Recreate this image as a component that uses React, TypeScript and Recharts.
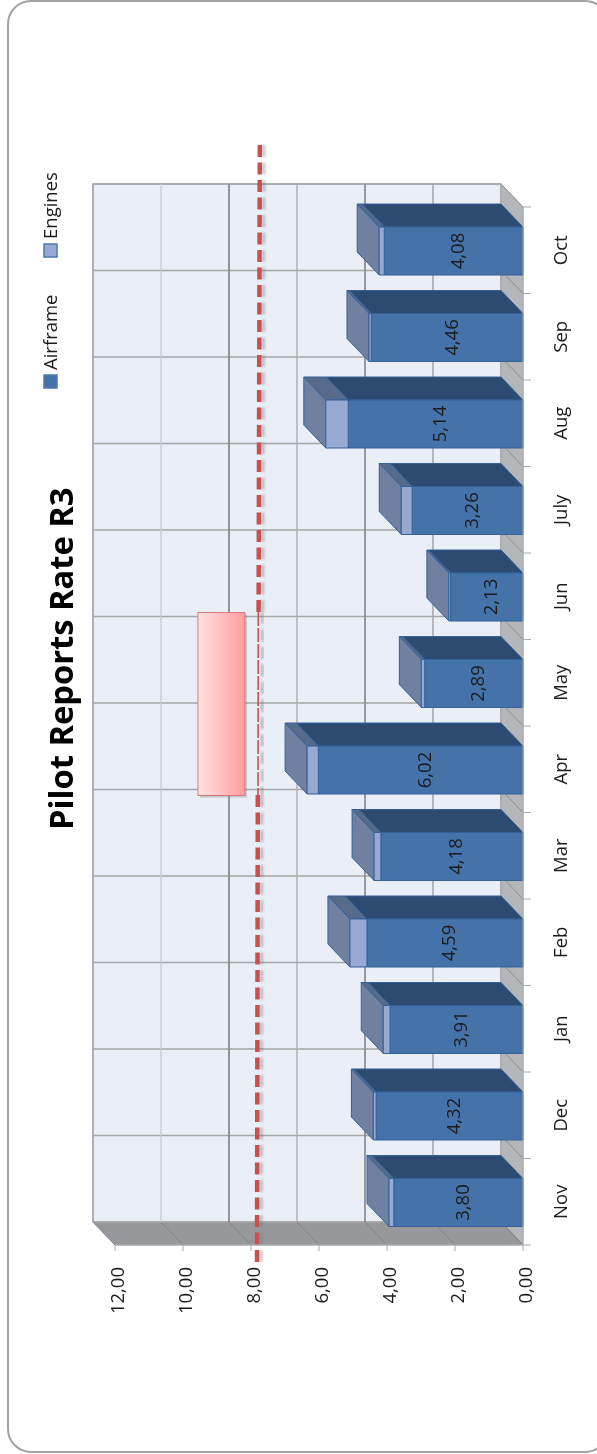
import React from "react";
import { BarChart, Bar, XAxis, YAxis, CartesianGrid, ReferenceArea, ReferenceLine, LabelList, Legend } from "recharts";

const months = ["Nov", "Dec", "Jan", "Feb", "Mar", "Apr", "May", "Jun", "July", "Aug", "Sep", "Oct"];
const airframe = [3.8, 4.32, 3.91, 4.59, 4.18, 6.02, 2.89, 2.13, 3.26, 5.14, 4.46, 4.08];
const engines = [0.14, 0.08, 0.2, 0.5, 0.2, 0.33, 0.1, 0.05, 0.32, 0.66, 0.07, 0.15];
const valueTicks = [0, 2, 4, 6, 8, 10, 12];
const target = 7.8;
const calloutFrom = 8.18;
const calloutTo = 9.56;
const title = "Pilot Reports Rate R3";

const data = months.map((m, i) => ({ month: m, Airframe: airframe[i], Engines: engines[i] }));

const DX = 22;
const DY = 23;
const FONT = "'Open Sans', sans-serif";
const FS = 18.5;
const TEXT = "#1c1c1c";
const gridColors: Record<number, string> = { 0: "#a9abb0", 2: "#a0a0a4", 4: "#8f8f8f", 6: "#adadad", 8: "#8a8a8a", 10: "#c8ccd4", 12: "#a9abb0" };

const comma = (v: number) => v.toFixed(2).replace(".", ",");
const pts = (...p: number[][]) => p.map((q) => q.join(",")).join(" ");

function box(props: any, front: string, top: string, cap: string, drawCap: boolean) {
  const w = Math.abs(props.width);
  const x = props.width < 0 ? props.x + props.width : props.x;
  const y = props.y + 1;
  const h = props.height;
  const stroke = "#35619a";
  return (
    <g strokeLinejoin="round">
      <polygon points={pts([x, y], [x + w, y], [x + w - DX, y - DY], [x - DX, y - DY])} fill={top} stroke={stroke} strokeWidth={1} />
      {drawCap && <polygon points={pts([x, y], [x, y + h], [x - DX, y + h - DY], [x - DX, y - DY])} fill={cap} stroke={stroke} strokeWidth={1} />}
      <rect x={x} y={y} width={w} height={h} fill={front} stroke={stroke} strokeWidth={1} />
    </g>
  );
}
const AirframeShape = (p: any) => box(p, "#4472a9", "#2d4a70", "#6f80a0", true);
const EnginesShape = (p: any) => box(p, "#95a9d3", "#566a8a", "#6f80a0", true);

const ValueLabel = (p: any) => {
  const w = Math.abs(p.width);
  const x = (p.width < 0 ? p.x + p.width : p.x) + w / 2 + 3;
  const y = p.y + p.height / 2 + 1;
  return (
    <text x={x} y={y} transform={`rotate(-90 ${x} ${y})`} textAnchor="middle" dominantBaseline="central" fontFamily={FONT} fontSize={FS} fill={TEXT}>
      {comma(Number(p.value))}
    </text>
  );
};

const ValueTick = (p: any) => {
  const x = p.x + 1;
  const y = p.y + 14;
  return (
    <text x={x} y={y} transform={`rotate(-90 ${x} ${y})`} textAnchor="end" dominantBaseline="central" fontFamily={FONT} fontSize={FS} fill={TEXT}>
      {comma(Number(p.payload.value))}
    </text>
  );
};

const MonthTick = (p: any) => {
  const x = p.x + 28;
  return (
    <text x={x} y={p.y} transform={`rotate(-90 ${x} ${p.y})`} textAnchor="middle" dominantBaseline="central" fontFamily={FONT} fontSize={FS} fill={TEXT}>
      {p.payload.value}
    </text>
  );
};

const Walls = (p: any) => {
  const { x, y, width: w, height: h } = p;
  return (
    <g>
      <rect x={x - DX} y={y - DY} width={w} height={h} fill="#e9eef7" stroke="#a9abb0" strokeWidth={1.5} />
      <polygon points={pts([x - DX, y + h - DY], [x + w - DX, y + h - DY], [x + w, y + h], [x, y + h])} fill="#96989c" stroke="#a9abb0" />
      <polygon points={pts([x + w - DX, y - DY], [x + w, y], [x + w, y + h], [x + w - DX, y + h - DY])} fill="#b4b6ba" stroke="#a9abb0" />
    </g>
  );
};

const verticalLine = (p: any) => {
  const v = valueTicks[p.index] ?? 0;
  return (
    <g key={`v${p.index}`}>
      <line x1={p.x1 - DX} x2={p.x2 - DX} y1={p.y1 - DY} y2={p.y2 - DY} stroke={gridColors[v]} strokeWidth={v === 8 || v === 4 ? 1.8 : 1.4} />
      <line x1={p.x2 - DX} x2={p.x2} y1={p.y2 - DY} y2={p.y2} stroke="#808286" strokeWidth={1} />
    </g>
  );
};

const horizontalLine = (p: any) => (
  <g key={`h${p.index}`}>
    <line x1={p.x1 - DX} x2={p.x2 - DX} y1={p.y1 - DY} y2={p.y2 - DY} stroke="#a6a6a6" strokeWidth={1.4} />
    <line x1={p.x2 - DX} x2={p.x2} y1={p.y2 - DY} y2={p.y2} stroke="#8c8e92" strokeWidth={1} />
    <line x1={p.x2} x2={p.x2 + 8} y1={p.y2} y2={p.y2} stroke="#a9abb0" strokeWidth={1} />
  </g>
);

const bandLines = ({ offset }: any) => months.map((_, i) => offset.top + (offset.height * i) / months.length).concat(offset.top + offset.height);

const TargetLine = (p: any) => {
  const x = Math.min(p.x1, p.x2);
  const dash = "12 5.5";
  const blur = "url(#lineBlur)";
  const seg = (y1: number, y2: number, xa: number, xb: number, sw: number, d: string) => (
    <g>
      <line x1={xa + 4} x2={xb + 4} y1={y1} y2={y2} stroke="#777" strokeOpacity={0.4} strokeWidth={3.5} strokeDasharray={dash} filter={blur} />
      <line x1={xa} x2={xb} y1={y1} y2={y2} stroke="#c9504f" strokeWidth={sw} strokeDasharray={d} />
    </g>
  );
  return (
    <g>
      <defs>
        <filter id="lineBlur" x="-400%" width="900%" filterUnits="objectBoundingBox" primitiveUnits="userSpaceOnUse">
          <feGaussianBlur stdDeviation="1" />
        </filter>
      </defs>
      {seg(145, 612, x + 2, x + 0.8, 4.5, dash)}
      {seg(612, 795, x + 0.5, x + 0.2, 1.6, "14 2")}
      {seg(795, 1266, x, x - 0.8, 4.5, dash)}
    </g>
  );
};

const Callout = (p: any) => {
  const y = p.y - 27;
  const h = 183;
  return (
    <g>
      <defs>
        <linearGradient id="calloutFill" x1="0" x2="1" y1="0" y2="0">
          <stop offset="0" stopColor="#ffe3e3" />
          <stop offset="1" stopColor="#ff9d9d" />
        </linearGradient>
      </defs>
      <rect x={p.x + 2} y={y + 2} width={p.width} height={h} fill="#8a8a8a" fillOpacity={0.4} />
      <rect x={p.x} y={y} width={p.width} height={h} fill="url(#calloutFill)" stroke="#d97a7a" strokeWidth={1} />
    </g>
  );
};

const renderLegend = (p: any) => {
  const positions = [375, 244];
  return (
    <svg width={1} height={1} style={{ overflow: "visible", position: "absolute", left: 0, top: 0 }}>
      {(p.payload ?? []).map((e: any, i: number) => (
        <g key={e.value}>
          <rect x={44} y={positions[i]} width={13} height={13} fill={e.color} stroke="#4f79ad" strokeWidth={1.5} />
          <text x={49} y={positions[i] - 5} transform={`rotate(-90 49 ${positions[i] - 5})`} dominantBaseline="central" fontFamily={FONT} fontSize={FS} fill={TEXT}>
            {e.value}
          </text>
        </g>
      ))}
    </svg>
  );
};

export default function App() {
  return (
    <div style={{ position: "absolute", left: 0, top: 0, width: 597, height: 1454, overflow: "hidden", background: "#fff", filter: "blur(0.4px)" }}>
      <svg width={597} height={1454} style={{ position: "absolute", left: 0, top: 0 }}>
        <rect x={8} y={1} width={600} height={1451} rx={23} ry={23} fill="#fff" stroke="#a2a2a2" strokeWidth={2} />
        <text x={73} y={830} transform="rotate(-90 73 830)" fontFamily="'Open Sans', sans-serif" fontWeight={700} fontSize={32.7} fill="#000">
          {title}
        </text>
      </svg>
      <div style={{ position: "absolute", left: 0, top: 0 }}>
        <BarChart
          width={597}
          height={1454}
          data={data}
          layout="vertical"
          barSize={48}
          barCategoryGap={0}
          margin={{ top: 207, right: 14, bottom: 149, left: 115 }}
        >
          <ReferenceArea x1={0} x2={12} shape={Walls} ifOverflow="visible" zIndex={-200} />
          <CartesianGrid
            stroke="#a9abb0"
            horizontal={horizontalLine}
            vertical={verticalLine}
            horizontalCoordinatesGenerator={bandLines}
          />
          <XAxis
            type="number"
            domain={[0, 12]}
            ticks={valueTicks}
            reversed
            height={60}
            tick={ValueTick}
            tickSize={6}
            tickLine={{ stroke: "#a9abb0" }}
            axisLine={{ stroke: "#a9abb0" }}
            interval={0}
          />
          <YAxis type="category" dataKey="month" orientation="right" reversed width={60} tick={MonthTick} tickLine={false} axisLine={{ stroke: "#a9abb0" }} interval={0} />
          <Legend content={renderLegend} wrapperStyle={{ position: "absolute", left: 0, top: 0, width: 0, height: 0 }} />
          <Bar dataKey="Airframe" stackId="a" fill="#4472a9" shape={AirframeShape} isAnimationActive={false}>
            <LabelList dataKey="Airframe" content={ValueLabel} />
          </Bar>
          <Bar dataKey="Engines" stackId="a" fill="#95a9d3" shape={EnginesShape} isAnimationActive={false} />
          <ReferenceLine x={target} shape={TargetLine} ifOverflow="visible" />
          <ReferenceArea x1={calloutFrom} x2={calloutTo} y1="May" y2="Apr" shape={Callout} ifOverflow="visible" />
        </BarChart>
      </div>
    </div>
  );
}
